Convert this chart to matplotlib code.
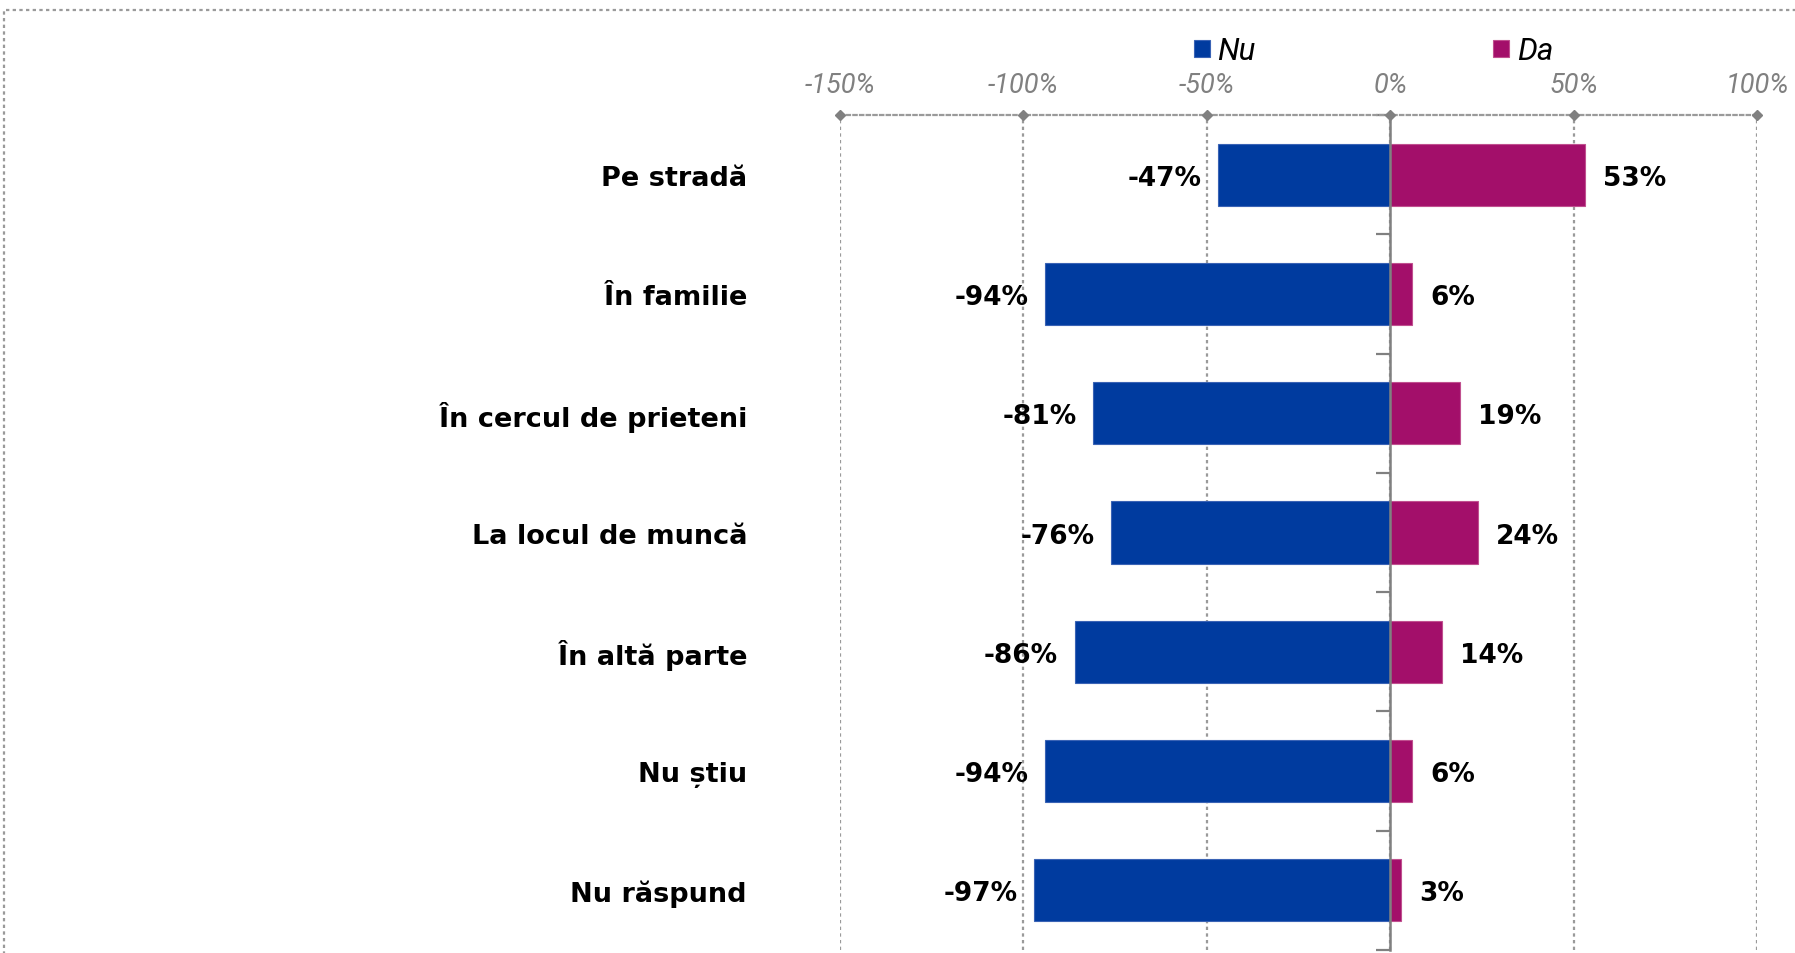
import numpy as np
import matplotlib
matplotlib.use("Agg")
import matplotlib.pyplot as plt
from matplotlib.patches import Rectangle

# data
categories = ["Pe stradă", "În familie", "În cercul de prieteni", "La locul de muncă",
              "În altă parte", "Nu știu", "Nu răspund"]
nu_vals = [-47, -94, -81, -76, -86, -94, -97]
da_vals = [53, 6, 19, 24, 14, 6, 3]
xticks = [-150, -100, -50, 0, 50, 100]

blue = "#003B9F"
magenta = "#A30F6A"
grey = "#808080"
bold_font = ["DejaVu Sans"]
narrow_font = ["Roboto", "DejaVu Sans"]

W, H = 1795, 954
fig = plt.figure(figsize=(W / 100, H / 100), dpi=100)
ax = fig.add_axes([840 / W, 1 - 951 / H, 917 / W, 835 / H])

y = np.arange(len(categories))
bars_nu = ax.barh(y, nu_vals, height=0.52, color=blue, edgecolor="#3a63b5", linewidth=0.8, label="Nu", zorder=3)
bars_da = ax.barh(y, da_vals, height=0.52, color=magenta, edgecolor="#c0508f", linewidth=0.8, label="Da", zorder=3)

ax.set_xlim(-150, 100)
ax.set_ylim(len(categories) - 0.5, -0.5)

# value labels
for yi, v in zip(y, nu_vals):
    ax.annotate(f"{v}%", (v, yi), xytext=(-12, 0), textcoords="offset points",
                ha="right", va="center_baseline", fontsize=19, fontweight="bold", family=bold_font)
for yi, v in zip(y, da_vals):
    ax.annotate(f"{v}%", (v, yi), xytext=(13, 0), textcoords="offset points",
                ha="left", va="center_baseline", fontsize=19, fontweight="bold", family=bold_font)

# category labels, right aligned left of the plot
for yi, c in zip(y, categories):
    ax.text(-93 / 917, yi, c, transform=ax.get_yaxis_transform(), ha="right", va="center_baseline",
            fontsize=19.5, fontweight="bold", family=bold_font)

# x axis on top
ax.xaxis.tick_top()
ax.set_xticks(xticks)
ax.set_xticklabels([f"{t}%" for t in xticks], fontsize=19.5, style="italic", color=grey,
                   family=narrow_font)
ax.tick_params(axis="x", length=0, pad=12)
ax.grid(axis="x", linestyle=(0, (1.5, 1.5)), color="#9a9a9a", linewidth=1.6, zorder=0)
ax.plot(xticks, [-0.5] * len(xticks), "D", color=grey, ms=5, clip_on=False, zorder=5)

# vertical category axis at zero
ax.spines["left"].set_position(("data", 0))
ax.spines["left"].set_color(grey)
ax.spines["left"].set_linewidth(1.8)
ax.spines["left"].set_zorder(4)
ax.set_yticks(np.arange(-0.5, len(categories), 1.0))
ax.tick_params(axis="y", length=10, width=1.6, color=grey, labelleft=False)
ax.spines["top"].set_linestyle((0, (1.5, 1.5)))
ax.spines["top"].set_color("#9a9a9a")
ax.spines["top"].set_linewidth(1.6)
ax.spines["right"].set_visible(False)
ax.spines["bottom"].set_visible(False)

# legend
ax.legend(handles=[bars_nu, bars_da], loc="center left", bbox_to_anchor=(1166 / W, 1 - 52 / H),
          bbox_transform=fig.transFigure, ncol=2, frameon=False, handlelength=0.5, handleheight=0.5,
          handletextpad=0.25, columnspacing=7.6,
          prop={"family": narrow_font, "style": "italic", "size": 22.5})

# dotted outer frame
fig.patches.append(Rectangle((4 / W, -0.05), 1.2, 1 - 11 / H + 0.05, transform=fig.transFigure,
                             fill=False, linestyle=(0, (1.5, 1.5)), edgecolor="#9a9a9a", linewidth=1.6))

fig.savefig("out.png", dpi=100)
